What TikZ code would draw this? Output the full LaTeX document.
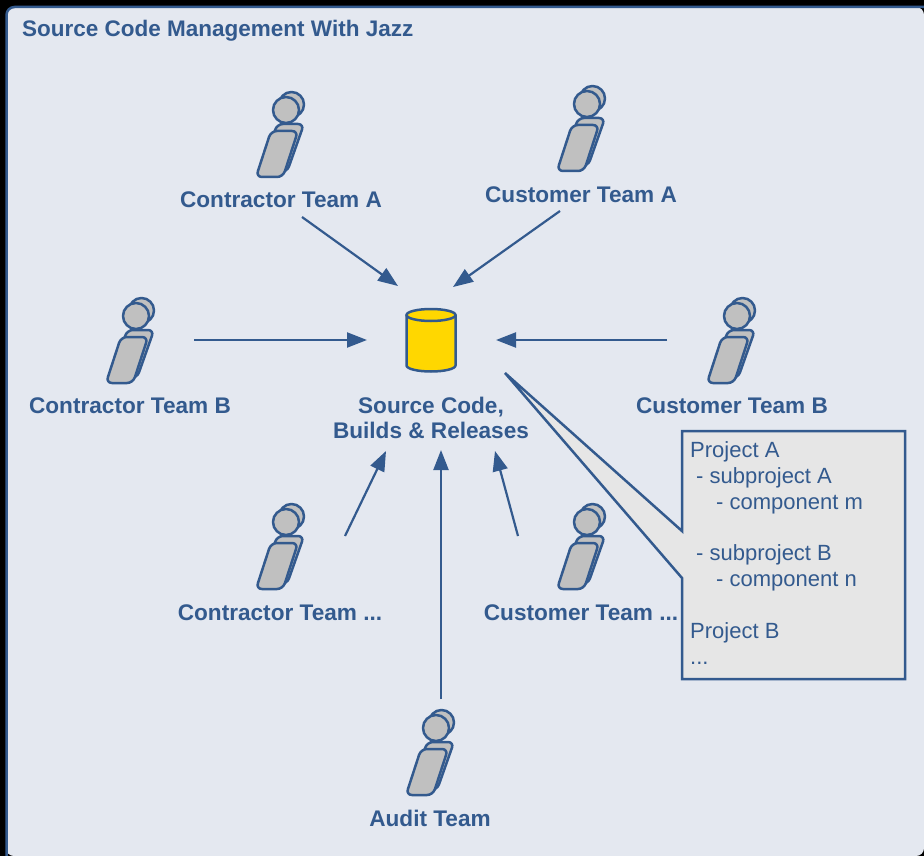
\documentclass[tikz,border=0pt]{standalone}
\usepackage{fontspec}
\setmainfont{Liberation Sans}
\definecolor{inkblue}{HTML}{335A8E}
\definecolor{panelbg}{HTML}{E4E8F0}
\definecolor{persongray}{HTML}{C0C0C0}
\definecolor{notegray}{HTML}{E6E6E6}
\definecolor{dbyellow}{HTML}{FFD700}
\usetikzlibrary{arrows.meta}
\tikzset{
  outline/.style={draw=inkblue,line width=2.5pt,line join=round},
  personpart/.style={outline,fill=persongray},
  teamlabel/.style={text=inkblue,font=\fontsize{22.6}{25.7}\selectfont\bfseries,inner sep=0pt,align=center},
  flow/.style={draw=inkblue,line width=2.2pt,-{Stealth[length=20pt,width=15pt,inset=0pt]}},
  notetext/.style={text=inkblue,font=\fontsize{22}{25.85}\selectfont,inner sep=0pt,align=left,anchor=north west},
  person/.pic={
    \path[personpart] (5.5,-5.5) circle (12.5);
    \path[personpart,rounded corners=6pt] (-9,14) -- (18,14) -- (1,62) -- (-24,62) -- cycle;
    \path[personpart] (0,0) circle (13);
    \path[personpart,rounded corners=6pt] (-15,21) -- (12,21) -- (-3,67) -- (-30,67) -- cycle;
  }
}
\begin{document}
\begin{tikzpicture}[x=1pt,y=-1pt]
\useasboundingbox (0,0) rectangle (924,856);
\fill[black] (0,0) rectangle (924,856);
\fill[panelbg,rounded corners=8pt] (6,856) -- (6,7) -- (924,7) -- (924,856) -- cycle;
\draw[inkblue,line width=2.5pt,rounded corners=8pt] (6.5,856) -- (6.5,7) -- (924,7);
\node[text=inkblue,font=\fontsize{22.5}{25}\selectfont\bfseries,inner sep=0pt,anchor=west] (title) at (22,30.5) {Source Code Management With Jazz};

\pic at (286,110) {person};
\pic at (587,104) {person};
\pic at (136,316) {person};
\pic at (737,316) {person};
\pic at (286,522) {person};
\pic at (587,522) {person};
\pic at (436,728) {person};

\node[teamlabel] (cta) at (281,199.7) {Contractor Team A};
\node[teamlabel] (cua) at (581,194.7) {Customer Team A};
\node[teamlabel] (ctb) at (130,405.7) {Contractor Team B};
\node[teamlabel] (cub) at (732,405.7) {Customer Team B};
\node[teamlabel] (ctn) at (280,612.7) {Contractor Team ...};
\node[teamlabel] (cun) at (581,612.7) {Customer Team ...};
\node[teamlabel] (aud) at (430,818.7) {Audit Team};
\node[teamlabel] (src) at (431,418) {Source Code,\\Builds \& Releases};

% repository
\path[outline,fill=dbyellow] (406.5,315) -- (406.5,365.5) arc[x radius=24.5,y radius=6,start angle=180,end angle=0] -- (455.5,315) -- cycle;
\path[outline,fill=dbyellow] (431,315) ellipse [x radius=24.5,y radius=6];

% connector end points
\coordinate (a1) at (302,217); \coordinate (a2) at (398,286);
\coordinate (b1) at (560,211); \coordinate (b2) at (453,287);
\coordinate (c1) at (194,340); \coordinate (c2) at (367,340);
\coordinate (d1) at (667,340); \coordinate (d2) at (496,340);
\coordinate (e1) at (345,536); \coordinate (e2) at (386,451);
\coordinate (f1) at (441,699); \coordinate (f2) at (441,450);
\coordinate (g1) at (518,536); \coordinate (g2) at (495,451);
\foreach \p/\q in {a1/a2,b1/b2,c1/c2,d1/d2,e1/e2,f1/f2,g1/g2}
  \draw[flow] (\p) -- (\q);

% callout
\coordinate (tip) at (505,373);
\path[outline,fill=notegray,line join=miter] (682,431) -- (905,431) -- (905,679) -- (682,679) -- (682,578) -- (tip) -- (682,531) -- cycle;
\node[notetext] (note) at (690,441.2) {Project A\\
\hspace*{6pt}- subproject A\\
\hspace*{26pt}- component m\\[25.85pt]
\hspace*{6pt}- subproject B\\
\hspace*{26pt}- component n\\[25.85pt]
Project B\\
...};
\end{tikzpicture}
\end{document}
